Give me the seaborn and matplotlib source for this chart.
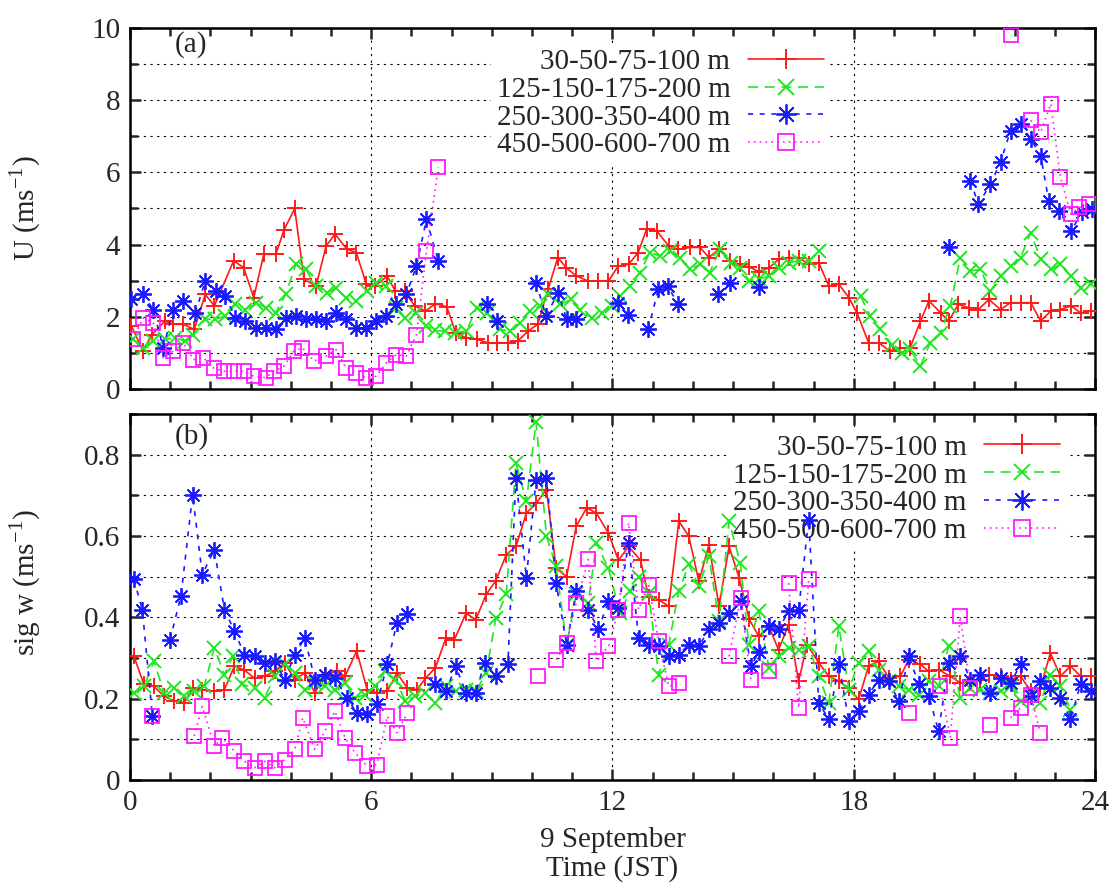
import numpy as np
import pandas as pd
import matplotlib
matplotlib.use("Agg")
import matplotlib.pyplot as plt
from matplotlib.lines import Line2D
from matplotlib.ticker import MultipleLocator
import seaborn as sns

nan = np.nan

# ---- panel (a): wind speed U (m/s), time in hours JST, nan = gap in record
a_red_t = [0.04,0.33,0.54,0.875,1.08,1.33,1.6,1.875,2.1,2.58,2.83,3.08,3.33,3.63,3.83,4.1,4.33,4.63,4.88,5.1,5.4,5.63,5.88,6.1,6.4,6.6,6.83,7.08,7.35,7.6,7.88,8.1,8.35,8.64,8.9,9.14,9.4,9.64,9.9,10.14,10.4,10.64,10.85,11.1,11.4,11.64,11.9,12.14,12.4,12.64,12.85,13.1,13.4,13.64,13.93,14.18,14.4,14.64,14.93,15.16,15.4,15.64,15.9,16.13,16.38,16.63,16.88,17.13,17.38,17.63,17.88,18.08,18.37,18.62,18.9,19.16,19.4,19.66,19.87,20.16,20.36,20.6,20.86,21.1,21.36,21.65,21.9,22.15,22.4,22.65,22.9,23.14,23.4,23.64,23.9]
a_red_v = [1.74,1.05,1.5,1.88,1.79,1.79,1.65,2.62,2.3,3.55,3.36,2.53,3.73,3.73,4.4,5.0,3.04,2.85,3.96,4.29,3.87,3.78,2.9,2.85,3.13,2.71,2.71,2.3,2.16,2.36,2.28,1.56,1.42,1.37,1.28,1.28,1.28,1.32,1.6,1.79,2.76,3.64,3.36,3.13,2.99,2.99,2.99,3.4,3.45,3.78,4.43,4.38,3.96,3.87,3.92,3.92,3.64,3.87,3.55,3.45,3.38,3.25,3.36,3.59,3.64,3.64,3.45,3.5,2.85,2.9,2.53,2.11,1.28,1.28,1.05,1.14,1.14,1.88,2.44,2.11,1.88,2.34,2.25,2.2,2.48,2.2,2.39,2.39,2.39,1.88,2.16,2.2,2.3,2.11,2.16]

a_green_t = [0.08,0.33,0.58,0.875,1.13,1.375,1.58,1.875,2.125,2.375,2.625,2.875,3.125,3.375,3.625,3.875,4.125,4.375,4.625,4.9,5.125,5.375,5.625,5.9,6.125,6.375,6.625,6.85,7.125,7.375,7.6,7.83,8.08,8.37,8.62,8.87,9.2,9.45,9.7,9.94,10.2,10.4,10.69,10.98,11.19,11.48,11.73,11.98,12.18,12.43,12.68,12.93,13.18,13.43,13.67,13.92,14.17,14.42,14.67,14.96,15.17,15.4,15.64,15.9,16.13,16.38,16.63,16.88,17.13,17.6,18.17,18.41,18.66,18.95,19.2,19.4,19.66,19.9,20.16,20.4,20.65,20.9,21.15,21.4,21.65,21.9,22.15,22.4,22.65,22.9,23.14,23.4,23.64,23.9]
a_green_v = [1.37,1.14,1.32,1.37,1.42,1.32,1.5,1.93,1.93,2.02,2.34,2.2,2.39,2.25,2.11,2.62,3.45,3.31,2.85,2.67,2.8,2.53,2.44,2.71,2.94,2.85,2.25,1.97,2.11,1.74,1.62,1.6,1.56,1.6,2.25,2.11,1.65,1.6,1.83,2.16,2.3,2.62,2.34,2.48,2.2,1.97,2.11,2.3,2.57,2.85,3.22,3.78,3.69,3.82,3.64,3.31,3.45,3.22,3.87,3.5,3.36,3.0,3.04,3.13,3.36,3.5,3.55,3.55,3.82,nan,2.57,2.02,1.65,1.23,1.0,1.1,0.63,1.28,1.56,2.3,3.64,3.27,3.31,2.71,3.13,3.4,3.64,4.33,3.59,3.31,3.45,3.13,2.8,2.9]

a_blue_t = [0.04,0.33,0.58,0.83,1.08,1.33,1.63,1.875,2.13,2.375,2.625,2.875,3.125,3.375,3.625,3.875,4.125,4.375,4.625,4.875,5.125,5.375,5.625,5.875,6.125,6.375,6.625,6.875,7.125,7.375,7.67,8.3,8.87,9.12,9.6,10.1,10.35,10.65,10.86,11.1,11.6,12.14,12.39,12.6,12.89,13.14,13.38,13.63,14.1,14.63,14.92,15.3,15.64,18.0,20.36,20.6,20.9,21.1,21.4,21.65,21.9,22.15,22.4,22.65,22.85,23.1,23.4,23.68,23.93]
a_blue_v = [2.48,2.62,2.2,1.14,2.2,2.44,2.11,2.99,2.71,2.57,1.97,1.88,1.69,1.69,1.65,1.97,2.02,1.93,1.93,1.88,2.11,1.93,1.69,1.69,1.88,2.02,2.34,2.62,3.4,4.7,3.55,nan,2.34,1.88,nan,2.94,2.02,2.67,1.93,1.93,nan,2.39,2.06,nan,1.65,2.76,2.85,2.34,nan,2.62,2.94,nan,2.82,nan,3.92,nan,5.77,5.12,5.68,6.28,7.16,7.34,6.93,6.46,5.21,4.94,4.38,4.89,4.98]

a_mag_t = [0.08,0.33,0.58,0.83,1.08,1.33,1.58,1.83,2.08,2.33,2.58,2.83,3.08,3.375,3.58,3.83,4.08,4.29,4.58,4.875,5.125,5.375,5.625,5.875,6.125,6.375,6.625,6.875,7.125,7.375,7.67,14.0,21.9,22.15,22.4,22.65,22.9,23.14,23.4,23.6,23.85]
a_mag_v = [1.37,1.97,1.83,0.86,1.05,1.28,0.81,0.86,0.58,0.49,0.49,0.49,0.35,0.31,0.49,0.63,1.05,1.14,0.77,0.91,1.09,0.58,0.44,0.31,0.35,0.72,0.95,0.91,1.5,3.82,6.14,nan,9.8,nan,7.44,7.11,7.9,5.86,4.84,5.03,5.12]

# ---- panel (b): sigma w (m/s)
b_red_t = [0.1,0.35,0.6,0.85,1.1,1.35,1.56,1.8,2.1,2.35,2.6,2.85,3.1,3.35,3.6,3.85,4.1,4.35,4.6,4.85,5.14,5.35,5.64,5.9,6.14,6.4,6.64,6.9,7.14,7.35,7.6,7.86,8.07,8.36,8.6,8.86,9.1,9.36,9.6,9.86,10.1,10.36,10.6,10.86,11.1,11.36,11.6,11.9,12.15,12.4,12.7,12.9,13.15,13.4,13.65,13.9,14.15,14.4,14.65,14.9,15.15,15.4,15.64,15.89,16.13,16.38,16.63,16.84,17.13,17.38,17.63,17.88,18.12,18.37,18.62,18.87,19.16,19.37,19.66,19.87,20.11,20.4,20.65,20.9,21.15,21.36,21.65,21.9,22.15,22.4,22.64,22.89,23.14,23.39,23.64,23.89]
b_red_v = [0.304,0.235,0.23,0.206,0.194,0.19,0.226,0.222,0.218,0.222,0.28,0.27,0.25,0.255,0.267,0.288,0.247,0.263,0.214,0.259,0.267,0.255,0.317,0.222,0.214,0.218,0.263,0.226,0.222,0.25,0.276,0.35,0.345,0.41,0.394,0.456,0.49,0.554,0.574,0.656,0.68,0.714,0.52,0.5,0.624,0.669,0.656,0.607,0.54,0.574,0.54,0.45,0.443,0.427,0.636,0.599,0.488,0.578,0.427,0.574,0.497,0.395,0.353,0.378,0.32,0.382,0.243,0.333,0.288,0.255,0.243,0.226,0.198,0.28,0.292,0.251,0.255,0.296,0.284,0.267,0.271,0.255,0.239,0.239,0.247,0.259,0.255,0.247,0.255,0.218,0.226,0.312,0.255,0.28,0.255,0.255]

b_green_t = [0.1,0.35,0.6,0.85,1.1,1.35,1.6,1.85,2.1,2.35,2.56,2.8,3.1,3.35,3.6,3.85,4.1,4.35,4.6,4.85,5.1,5.35,5.6,5.85,6.1,6.35,6.6,6.85,7.1,7.35,7.6,7.86,8.1,8.36,8.6,8.86,9.1,9.36,9.6,9.86,10.1,10.36,10.6,10.86,11.1,11.4,11.6,11.9,12.19,12.44,12.65,12.9,13.15,13.4,13.65,13.9,14.15,14.4,14.65,14.9,15.18,15.39,15.64,15.89,16.13,16.38,16.63,16.88,17.13,17.38,17.63,17.88,18.12,18.37,18.62,18.87,19.12,19.37,19.62,19.87,20.11,20.36,20.65,20.9,21.15,21.4,21.65,21.9,22.15,22.4,22.64,22.89,23.14,23.39]
b_green_v = [0.214,0.23,0.292,0.214,0.226,0.206,0.218,0.23,0.325,0.259,0.304,0.235,0.226,0.202,0.255,0.284,0.263,0.222,0.239,0.23,0.222,0.239,0.202,0.21,0.23,0.267,0.247,0.194,0.206,0.214,0.19,0.23,0.218,0.222,0.218,0.263,0.398,0.456,0.779,0.685,0.88,0.599,0.525,0.333,0.456,0.435,0.583,0.52,0.41,0.464,0.5,0.46,0.259,0.333,0.464,0.53,0.476,0.55,0.39,0.636,0.533,0.333,0.415,0.276,0.304,0.325,0.32,0.329,0.255,0.19,0.378,0.222,0.288,0.317,0.271,0.243,0.23,0.222,0.21,0.243,0.23,0.329,0.202,0.226,0.222,0.214,0.218,0.23,0.194,0.21,0.19,0.259,0.23,0.173]

b_blue_t = [0.1,0.31,0.56,0.8,1.0,1.27,1.56,1.8,2.1,2.35,2.6,2.85,3.1,3.35,3.6,3.85,4.1,4.35,4.6,4.85,5.1,5.4,5.64,5.9,6.14,6.4,6.64,6.9,7.3,7.6,7.86,8.1,8.36,8.6,8.82,9.1,9.4,9.6,9.86,10.1,10.36,10.6,10.86,11.1,11.4,11.65,11.9,12.15,12.4,12.65,12.9,13.15,13.4,13.65,13.9,14.15,14.4,14.65,14.9,15.19,15.44,15.65,15.89,16.13,16.38,16.63,16.88,17.13,17.38,17.63,17.88,18.12,18.37,18.62,18.87,19.12,19.37,19.62,19.87,20.11,20.36,20.65,20.9,21.15,21.4,21.65,21.9,22.15,22.4,22.64,22.89,23.14,23.39,23.64,23.89]
b_blue_v = [0.493,0.419,0.157,nan,0.345,0.452,0.701,0.505,0.566,0.419,0.366,0.308,0.304,0.288,0.292,0.247,0.308,0.349,0.247,0.259,0.251,0.202,0.165,0.161,0.186,0.284,0.386,0.407,nan,0.235,0.218,0.28,0.214,0.214,0.288,0.255,0.284,0.742,0.497,0.738,0.742,0.484,0.333,0.464,0.419,0.37,0.439,0.423,0.583,0.349,0.333,0.329,0.304,0.308,0.333,0.329,0.37,0.386,0.41,0.439,0.28,0.315,0.378,0.37,0.415,0.419,0.64,0.19,0.149,0.284,0.145,0.169,0.21,0.247,0.243,0.194,0.304,0.235,0.206,0.12,0.288,0.304,0.247,0.259,0.214,0.251,0.239,0.284,0.206,0.243,0.226,0.202,0.149,0.235,0.218]

b_mag_t = [0.56,1.1,1.6,1.8,2.1,2.3,2.6,2.85,3.1,3.35,3.6,3.85,4.1,4.3,4.6,4.85,5.1,5.35,5.6,5.9,6.14,6.4,6.64,6.9,8.5,10.14,10.4,10.6,10.86,11.1,11.4,11.6,11.9,12.15,12.4,12.65,12.9,13.15,13.4,13.65,14.3,14.9,15.19,15.44,15.7,15.89,16.1,16.38,16.63,16.88,18.0,19.37,19.8,20.15,20.4,20.65,20.9,21.2,21.4,21.7,21.9,22.15,22.4,22.64]
b_mag_v = [0.157,nan,0.108,0.181,0.083,0.104,0.071,0.046,0.03,0.046,0.03,0.05,0.075,0.153,0.075,0.12,0.169,0.104,0.067,0.034,0.038,0.157,0.116,0.165,nan,0.255,nan,0.296,0.337,0.435,0.542,0.292,0.329,0.419,0.632,0.419,0.48,0.341,0.23,0.239,nan,0.304,0.448,0.247,nan,0.267,nan,0.484,0.177,0.493,nan,0.165,nan,0.23,0.104,0.402,0.226,nan,0.136,nan,0.153,0.177,0.21,0.116]

labels = ["30-50-75-100 m", "125-150-175-200 m", "250-300-350-400 m", "450-500-600-700 m"]

styles = [
    dict(color="#ff1a1a", linestyle="-", marker="+", ms=12, mew=1.4),
    dict(color="#22e622", linestyle=(0, (6, 4)), marker="x", ms=10, mew=1.4),
    dict(color="#1a1aff", linestyle=(0, (3, 4)), marker=(8, 2, 0), ms=12, mew=1.3),
    dict(color="#ff1aff", linestyle=(0, (1, 2.5)), marker="s", ms=10, mew=1.3),
]

FS = 21

sns.set_theme(style="ticks")
plt.rcParams["font.family"] = ["Liberation Serif", "DejaVu Serif"]
plt.rcParams["mathtext.fontset"] = "stix"


def draw_series(ax, t, v, st):
    df = pd.DataFrame({"t": t, "v": v})
    seg = df["v"].isna().cumsum()
    df = df.assign(seg=seg).dropna()
    for _, part in df.groupby("seg"):
        sns.lineplot(data=part, x="t", y="v", ax=ax, estimator=None, sort=False,
                     color=st["color"], linestyle=st["linestyle"], linewidth=1.2,
                     marker=st["marker"], markersize=st["ms"], markeredgewidth=st["mew"],
                     markerfacecolor="none", markeredgecolor=st["color"], zorder=3)


def style_axes(ax, ymax, ymajor, yminor):
    ax.set_xlim(0, 24)
    ax.set_ylim(0, ymax)
    ax.xaxis.set_major_locator(MultipleLocator(6))
    ax.xaxis.set_minor_locator(MultipleLocator(1))
    ax.yaxis.set_major_locator(MultipleLocator(ymajor))
    ax.yaxis.set_minor_locator(MultipleLocator(yminor))
    ax.tick_params(which="both", direction="in", top=True, right=True, width=1.8, labelsize=FS)
    ax.tick_params(which="major", length=8, pad=7)
    ax.tick_params(which="minor", length=6)
    ax.set_axisbelow(True)
    ax.grid(True, which="minor", axis="y", color="black", linestyle=(0, (2, 4)), linewidth=0.8)
    ax.grid(True, which="major", color="black", linestyle=(0, (2, 4)), linewidth=0.8)
    for sp in ax.spines.values():
        sp.set_linewidth(1.8)
        sp.set_color("black")
    ax.set_xlabel("")
    ax.set_ylabel("")


fig = plt.figure(figsize=(11.1, 8.9), dpi=100)
ax_a = fig.add_axes([0.117, 0.563, 0.8695, 0.4055])
ax_b = fig.add_axes([0.117, 0.1236, 0.8695, 0.4114])

panel_a = [(a_red_t, a_red_v), (a_green_t, a_green_v), (a_blue_t, a_blue_v), (a_mag_t, a_mag_v)]
panel_b = [(b_red_t, b_red_v), (b_green_t, b_green_v), (b_blue_t, b_blue_v), (b_mag_t, b_mag_v)]

for (t, v), st in zip(panel_a, styles):
    draw_series(ax_a, t, v, st)
for (t, v), st in zip(panel_b, styles):
    draw_series(ax_b, t, v, st)

style_axes(ax_a, 10, 2, 1)
style_axes(ax_b, 0.9, 0.2, 0.1)
ax_a.tick_params(labelbottom=False)
ax_b.set_yticks([0, 0.2, 0.4, 0.6, 0.8])
ax_b.set_yticklabels(["0", "0.2", "0.4", "0.6", "0.8"])

ax_a.set_ylabel(r"U (ms$^{\mathregular{-1}}$)", fontsize=FS)
ax_b.set_ylabel(r"sig w (ms$^{\mathregular{-1}}$)", fontsize=FS)
ax_a.yaxis.set_label_coords(-0.09, 0.5)
ax_b.yaxis.set_label_coords(-0.09, 0.54)
ax_b.set_xlabel("9 September\nTime (JST)", fontsize=FS, labelpad=8, linespacing=1.1)

ax_a.text(0.047, 0.953, "(a)", transform=ax_a.transAxes, fontsize=FS, va="center", ha="left")
ax_b.text(0.047, 0.937, "(b)", transform=ax_b.transAxes, fontsize=FS, va="center", ha="left")

handles = [Line2D([], [], color=st["color"], linestyle=st["linestyle"], linewidth=1.2,
                  marker=st["marker"], markersize=st["ms"] * 1.2, markeredgewidth=st["mew"],
                  markerfacecolor="none") for st in styles]

for ax, anchor in [(ax_a, (0.74, 1.0)), (ax_b, (0.985, 1.0))]:
    leg = ax.legend(handles, labels, loc="upper right", bbox_to_anchor=anchor,
                    markerfirst=False, fontsize=FS, handlelength=2.6, labelspacing=0.05,
                    handletextpad=0.6, borderpad=0.2, frameon=True, fancybox=False,
                    facecolor="white", edgecolor="none", framealpha=1.0)
    leg.set_zorder(2)

fig.savefig("out.png", dpi=100)
